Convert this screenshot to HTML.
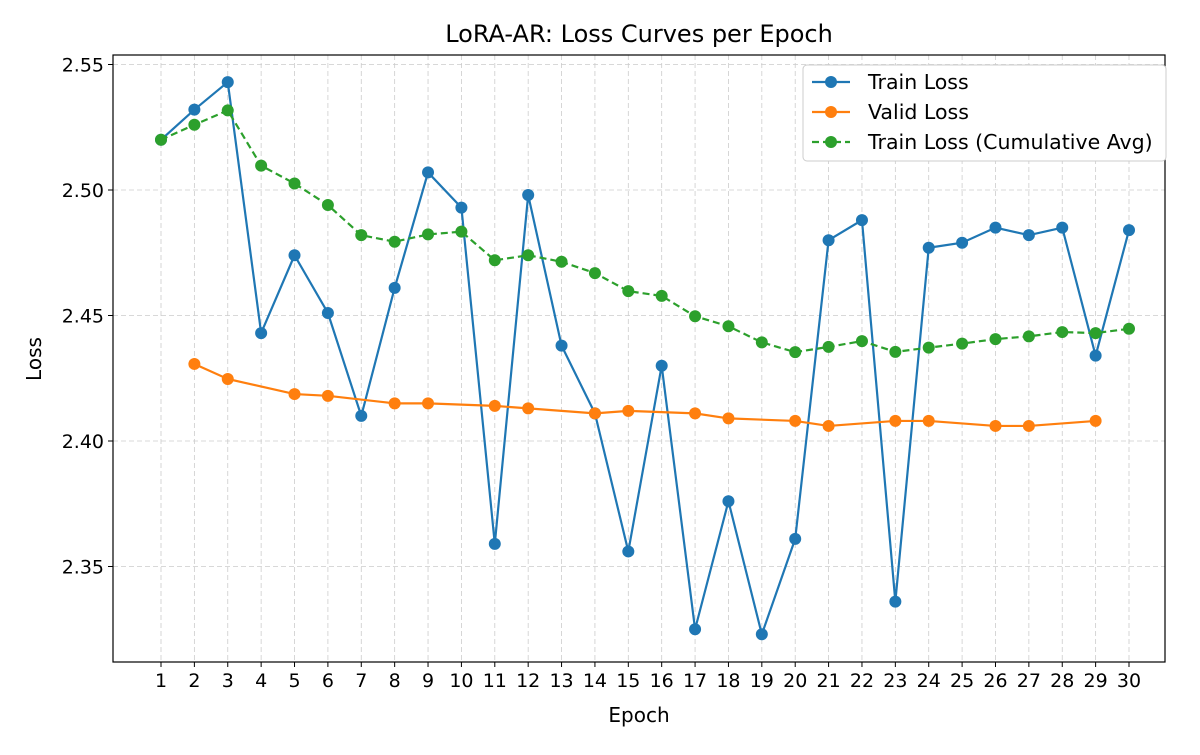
<!DOCTYPE html>
<html><head><meta charset="utf-8"><style>body{margin:0;background:#fff}svg text{font-family:"DejaVu Sans","Liberation Sans",sans-serif;fill:#000}</style></head>
<body>
<svg id="c" width="1200" height="750" xmlns="http://www.w3.org/2000/svg"></svg>
<script>
const epochs=[1,2,3,4,5,6,7,8,9,10,11,12,13,14,15,16,17,18,19,20,21,22,23,24,25,26,27,28,29,30];
const trainLoss=[2.52,2.532,2.543,2.443,2.474,2.451,2.410,2.461,2.507,2.493,2.359,2.498,2.438,2.411,2.356,2.430,2.325,2.376,2.323,2.361,2.480,2.488,2.336,2.477,2.479,2.485,2.482,2.485,2.434,2.484];
const cumAvg=[2.52,2.526,2.5317,2.5097,2.5026,2.494,2.482,2.4794,2.4823,2.4834,2.472,2.474,2.4714,2.4669,2.4597,2.4578,2.4497,2.4457,2.4393,2.4354,2.4375,2.4398,2.4355,2.4372,2.4388,2.4406,2.4417,2.4434,2.443,2.4447];
const validEpochs=[2,3,5,6,8,9,11,12,14,15,17,18,20,21,23,24,26,27,29];
const validLoss=[2.4307,2.4247,2.4187,2.418,2.415,2.415,2.414,2.413,2.411,2.412,2.411,2.409,2.408,2.406,2.408,2.408,2.406,2.406,2.408];
const yTicks=[2.35,2.40,2.45,2.50,2.55];
const L=113,R=1165,T=55,B=662;
const X=e=>161+(e-1)*(1129-161)/29;
const Y=v=>441-(v-2.40)*2510;
const s=document.getElementById('c');const NS='http://www.w3.org/2000/svg';
function mk(t,a,txt){const e=document.createElementNS(NS,t);for(const k in a)e.setAttribute(k,a[k]);if(txt!==undefined)e.textContent=txt;s.appendChild(e);return e;}
epochs.forEach(e=>{const g=mk('line',{x1:X(e),x2:X(e),y1:T,y2:B,stroke:'#ccc','stroke-dasharray':'5,3','stroke-width':0.8});


mk('line',{x1:X(e),x2:X(e),y1:B,y2:B+5,stroke:'#000'});
const t=mk('text',{x:X(e),y:B+25,'text-anchor':'middle','font-size':19},String(e));

});
yTicks.forEach(v=>{const g=mk('line',{x1:L,x2:R,y1:Y(v),y2:Y(v),stroke:'#ccc','stroke-dasharray':'5,3','stroke-width':0.8});


mk('line',{x1:L-5,x2:L,y1:Y(v),y2:Y(v),stroke:'#000'});
const t=mk('text',{x:L-9,y:Y(v)+7,'text-anchor':'end','font-size':19},v.toFixed(2));

});
function series(xs,ys,col,dash,name){
const p=mk('polyline',{points:xs.map((e,i)=>X(e)+','+Y(ys[i])).join(' '),fill:'none',stroke:col,'stroke-width':2.2,'stroke-dasharray':dash||''});


xs.forEach((e,i)=>{const c=mk('circle',{cx:X(e),cy:Y(ys[i]),r:6,fill:col});

});}
series(epochs,trainLoss,'#1f77b4','','train-loss');
series(validEpochs,validLoss,'#ff7f0e','','valid-loss');
series(epochs,cumAvg,'#2ca02c','7,4','cum-avg');
const fr=mk('rect',{x:L,y:T,width:R-L,height:B-T,fill:'none',stroke:'#000','stroke-width':1.2});


const ti=mk('text',{x:(L+R)/2,y:42,'text-anchor':'middle','font-size':24},'LoRA-AR: Loss Curves per Epoch');


const xt=mk('text',{x:(L+R)/2,y:722,'text-anchor':'middle','font-size':20},'Epoch');


const yt=mk('text',{x:0,y:0,'text-anchor':'middle','font-size':20,transform:'translate(41,359) rotate(-90)'},'Loss');


const lg=mk('rect',{x:803,y:65,width:363,height:96,fill:'#fff',stroke:'#ccc',rx:4});


[['Train Loss','#1f77b4',''],['Valid Loss','#ff7f0e',''],['Train Loss (Cumulative Avg)','#2ca02c','7,4']].forEach((d,i)=>{const y=82+i*30;
mk('line',{x1:812,x2:850,y1:y,y2:y,stroke:d[1],'stroke-width':2.2,'stroke-dasharray':d[2]});
mk('circle',{cx:831,cy:y,r:6,fill:d[1]});
const t=mk('text',{x:868,y:y+7,'font-size':20.5},d[0]);

});
</script>
</body></html>
